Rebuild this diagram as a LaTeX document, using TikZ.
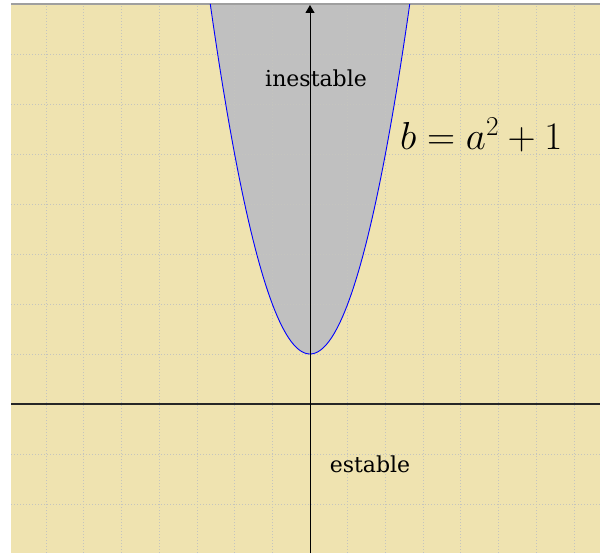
\RequirePackage{fix-cm}
\documentclass[tikz,border=0pt]{standalone}
\usepackage{fontspec}
\newfontfamily\labelfont{DejaVu Serif}
\usetikzlibrary{arrows.meta}
\definecolor{paper}{RGB}{239,227,176}
\definecolor{region}{RGB}{192,192,192}
\definecolor{gridgray}{RGB}{196,196,190}
\begin{document}
\begin{tikzpicture}[
			x=37.7pt, y=50pt,
			grid/.style={gridgray, line width=0.7pt, dash pattern=on 0.9pt off 2.1pt},
			axis/.style={black, line width=1pt},
			curve/.style={blue, line width=0.9pt},
			word/.style={font=\labelfont\fontsize{22}{26}\selectfont, inner sep=0pt},
			]
			\useasboundingbox (-8.223,-2.98) rectangle (7.692,8.08);

			% --- Background sheet ---
			\fill[paper] (-7.931,-2.98) rectangle (7.692,8);

			% --- Unstable region above b = a^2+1 ---
			\fill[region] (-2.6458,8) -- plot[domain=-2.6458:2.6458, samples=90] (\x,{\x*\x+1}) -- cycle;

			% --- Dotted grid ---
			\foreach \i in {-7,...,7} \draw[grid] (\i,-2.98) -- (\i,8);
			\foreach \j in {-2,...,7} \draw[grid] (-7.931,\j) -- (7.692,\j);
			\draw[gray!75, line width=1.2pt] (-7.931,8) -- (7.692,8);

			% --- Parabola ---
			\draw[curve] plot[domain=-2.6458:2.6458, samples=90] (\x,{\x*\x+1});

			% --- Axes ---
			\coordinate (west) at (-7.931,0);
			\coordinate (east) at (7.692,0);
			\coordinate (south) at (0,-2.98);
			\coordinate (north) at (0,7.98);
			\draw[axis, black!85, line width=1.3pt] (west) -- (east);
			\draw[axis, -{Triangle[length=8pt,width=9pt]}] (south) -- (north);

			% Labels
			\node[word] (inest) at (0.16,6.52) {inestable};
			\node[word] (est) at (1.59,-1.2) {estable};
			\node[inner sep=0pt, font=\fontsize{39}{42}\selectfont] (law) at (4.54,5.38) {$b=a^2+1$};

		\end{tikzpicture}
\end{document}
